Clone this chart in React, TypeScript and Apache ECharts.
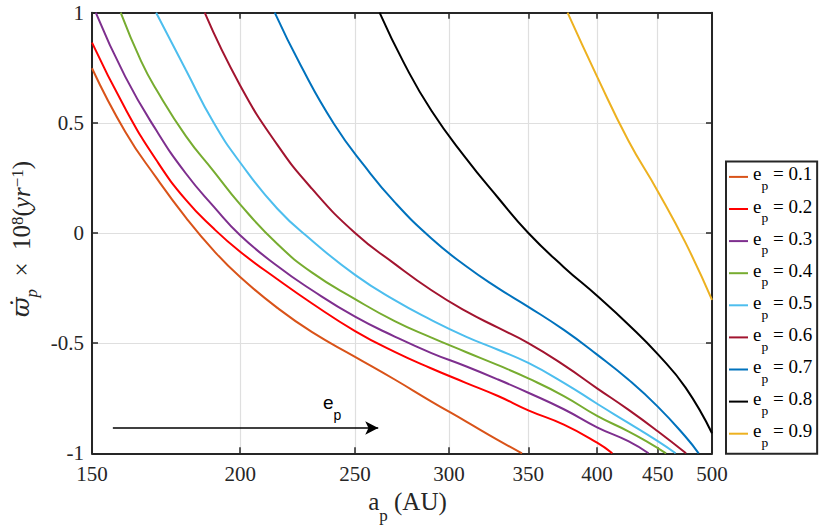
import React, { useEffect, useRef } from "react";
import * as echarts from "echarts";

// ---------- data ----------
const xTickValues = [150, 200, 250, 300, 350, 400, 450, 500];
const yRange = [-1, 1];
const yInterval = 0.5;

const eccentricityLabels = ["0.1", "0.2", "0.3", "0.4", "0.5", "0.6", "0.7", "0.8", "0.9"];
const lineColors = ["#D95319", "#FF0000", "#7E2F8E", "#77AC30", "#4DBEEE", "#A2142F", "#0072BD", "#000000", "#EDB120"];

// [a_p (AU), precession rate]
const curveE01 = [[150, 0.748], [160, 0.46], [170, 0.25], [180, 0.07], [190, -0.08], [200, -0.2], [215, -0.34], [230, -0.45], [250, -0.562], [270, -0.665], [290, -0.765], [310, -0.855], [330, -0.94], [345.7, -1]];
const curveE02 = [[150, 0.864], [160, 0.565], [170, 0.33], [180, 0.15], [190, 0.02], [200, -0.085], [215, -0.21], [230, -0.32], [250, -0.445], [270, -0.54], [290, -0.615], [310, -0.68], [330, -0.74], [350, -0.805], [375, -0.87], [400, -0.952], [412, -1]];
const curveE03 = [[151.1, 1], [160, 0.71], [170, 0.465], [180, 0.27], [190, 0.12], [200, -0.01], [215, -0.15], [230, -0.26], [250, -0.38], [270, -0.47], [290, -0.545], [310, -0.605], [330, -0.665], [350, -0.725], [375, -0.8], [400, -0.882], [425, -0.945], [442, -1]];
const curveE04 = [[158.6, 1], [165, 0.78], [170, 0.65], [180, 0.44], [190, 0.28], [200, 0.13], [215, -0.05], [230, -0.18], [250, -0.3], [270, -0.4], [290, -0.475], [310, -0.54], [330, -0.6], [350, -0.66], [375, -0.74], [400, -0.83], [425, -0.9], [440, -0.945], [457.3, -1]];
const curveE05 = [[169.9, 1], [180, 0.74], [190, 0.5], [200, 0.32], [215, 0.11], [230, -0.035], [250, -0.19], [270, -0.305], [290, -0.395], [310, -0.47], [330, -0.53], [350, -0.59], [375, -0.68], [400, -0.775], [425, -0.862], [450, -0.945], [465.9, -1]];
const curveE06 = [[186.7, 1], [200, 0.67], [215, 0.4], [230, 0.2], [250, 0], [270, -0.14], [290, -0.26], [310, -0.355], [330, -0.43], [350, -0.5], [375, -0.6], [400, -0.705], [425, -0.802], [450, -0.9], [475.4, -1]];
const curveE07 = [[213.9, 1], [225, 0.76], [240, 0.495], [255, 0.3], [270, 0.14], [290, -0.025], [310, -0.15], [330, -0.25], [350, -0.335], [375, -0.44], [400, -0.552], [425, -0.665], [450, -0.788], [475, -0.925], [487.2, -1]];
const curveE08 = [[262.2, 1], [275, 0.77], [290, 0.555], [310, 0.34], [330, 0.16], [350, 0], [375, -0.155], [400, -0.285], [425, -0.415], [450, -0.55], [475, -0.702], [500, -0.909]];
const curveE09 = [[377.7, 1], [400, 0.71], [425, 0.42], [450, 0.19], [475, -0.045], [500, -0.304]];

const curves = [curveE01, curveE02, curveE03, curveE04, curveE05, curveE06, curveE07, curveE08, curveE09];

const arrowFrom = [156.2, -0.885];
const arrowTo = [261.5, -0.885];

// ---------- styles ----------
const SERIF = "Liberation Serif, Times New Roman, DejaVu Serif, serif";
const SANS = "Liberation Sans, Arial, Helvetica, sans-serif";
const AXIS_COLOR = "#262626";
const GRID_COLOR = "#DFDFDF";

export default function App() {
  const ref = useRef<HTMLDivElement>(null);

  useEffect(() => {
    if (!ref.current) return;
    const chart = echarts.init(ref.current, null, { renderer: "svg" });

    const tickStyle = { show: true, inside: true, length: 6, lineStyle: { color: AXIS_COLOR, width: 1.5 } };
    const lineStyleAxis = { show: true, onZero: false, lineStyle: { color: AXIS_COLOR, width: 2 } };

    const lineSeries = curves.map((data, i) => ({
      type: "line",
      name: eccentricityLabels[i],
      data,
      xAxisIndex: 0,
      yAxisIndex: 0,
      symbol: "none",
      smooth: 0.5,
      lineStyle: { width: 2, color: lineColors[i] },
      itemStyle: { color: lineColors[i] },
      emphasis: { disabled: true },
      z: 3 + i,
    }));

    const arrowSeries = {
      type: "line",
      name: "arrow",
      data: [],
      xAxisIndex: 0,
      yAxisIndex: 0,
      symbol: "none",
      markLine: {
        silent: true,
        symbol: ["none", "arrow"],
        symbolSize: [10, 13],
        lineStyle: { color: "#000", width: 1.5, type: "solid" },
        label: { show: false },
        data: [[{ coord: arrowFrom }, { coord: arrowTo }]],
      },
    };

    const option = {
      animation: false,
      backgroundColor: "#fff",
      grid: { left: 92, right: 118, top: 12.7, bottom: 72.7, containLabel: false, outerBoundsMode: "none" },
      xAxis: [
        {
          type: "log",
          logBase: 10,
          min: xTickValues[0],
          max: xTickValues[xTickValues.length - 1],
          position: "bottom",
          axisLine: lineStyleAxis,
          axisTick: { ...tickStyle, customValues: xTickValues },
          axisLabel: { customValues: xTickValues, fontSize: 21, fontFamily: SERIF, color: AXIS_COLOR, margin: 10 },
          splitLine: { show: true, lineStyle: { color: GRID_COLOR, width: 1.2 } },
          minorTick: { show: false },
          minorSplitLine: { show: false },
          name: "{n|a}{sb|p}{n| (AU)}",
          nameLocation: "middle",
          nameGap: 25,
          nameTextStyle: {
            padding: [0, 0, 0, 11],
            rich: {
              n: { fontFamily: SERIF, fontSize: 25, lineHeight: 34, verticalAlign: "top", color: AXIS_COLOR },
              sb: { fontFamily: SERIF, fontSize: 17, lineHeight: 17, verticalAlign: "top", padding: [18, 0, 0, 0], color: AXIS_COLOR },
            },
          },
        },
        {
          type: "log",
          logBase: 10,
          min: xTickValues[0],
          max: xTickValues[xTickValues.length - 1],
          position: "top",
          axisLine: lineStyleAxis,
          axisTick: { ...tickStyle, customValues: xTickValues },
          axisLabel: { show: false },
          splitLine: { show: false },
        },
      ],
      yAxis: [
        {
          type: "value",
          min: yRange[0],
          max: yRange[1],
          interval: yInterval,
          position: "left",
          axisLine: lineStyleAxis,
          axisTick: tickStyle,
          axisLabel: { fontSize: 21, fontFamily: SERIF, color: AXIS_COLOR, margin: 8 },
          splitLine: { show: true, lineStyle: { color: GRID_COLOR, width: 1.2 } },
          name: "{w|ϖ̇}{sb|p}{n|  ×  10}{sp|8}{n|(}{i|yr}{sp|−1}{n|)}",
          nameLocation: "middle",
          nameGap: 37,
          nameRotate: 90,
          nameTextStyle: {
            padding: [0, 12, 0, 0],
            rich: {
              w: { fontFamily: "DejaVu Serif", fontSize: 24, lineHeight: 34, verticalAlign: "top", fontStyle: "italic", color: AXIS_COLOR },
              n: { fontFamily: SERIF, fontSize: 25, lineHeight: 34, verticalAlign: "top", color: AXIS_COLOR },
              i: { fontFamily: SERIF, fontSize: 25, lineHeight: 34, verticalAlign: "top", fontStyle: "italic", color: AXIS_COLOR },
              sb: { fontFamily: SERIF, fontSize: 17, lineHeight: 17, verticalAlign: "top", fontStyle: "italic", padding: [13.7, 0, 0, 0], color: AXIS_COLOR },
              sp: { fontFamily: SERIF, fontSize: 17, lineHeight: 17, verticalAlign: "top", color: AXIS_COLOR },
            },
          },
        },
        {
          type: "value",
          min: yRange[0],
          max: yRange[1],
          interval: yInterval,
          position: "right",
          axisLine: lineStyleAxis,
          axisTick: tickStyle,
          axisLabel: { show: false },
          splitLine: { show: false },
        },
      ],
      legend: {
        data: eccentricityLabels,
        orient: "vertical",
        left: 726,
        top: 161.5,
        padding: [2.9, 5, 4.35, 3],
        itemGap: 3.8,
        itemWidth: 19,
        itemHeight: 2,
        icon: "rect",
        borderColor: AXIS_COLOR,
        borderWidth: 2,
        backgroundColor: "#fff",
        selectedMode: false,
        formatter: (name: string) => `{n|e}{sb|p}{n| = ${name}}`,
        textStyle: {
          color: "#000",
          fontFamily: SERIF,
          fontSize: 19,
          rich: {
            n: { fontFamily: SERIF, fontSize: 19, lineHeight: 25, verticalAlign: "top", color: "#000" },
            sb: { fontFamily: SERIF, fontSize: 13.5, lineHeight: 13.5, verticalAlign: "top", padding: [14.3, 0, 0, 0], color: "#000" },
          },
        },
      },
      graphic: [
        {
          type: "text",
          left: 323,
          top: 393,
          silent: true,
          style: {
            text: "{e|e}{p|p}",
            rich: {
              e: { fontFamily: SANS, fontSize: 19, lineHeight: 22, verticalAlign: "top", fill: "#000" },
              p: { fontFamily: SANS, fontSize: 14, lineHeight: 14, verticalAlign: "top", padding: [15, 0, 0, 0], fill: "#000" },
            },
          },
        },
      ],
      series: [...lineSeries, arrowSeries],
    };

    chart.setOption(option as any);
    return () => chart.dispose();
  }, []);

  return (
    <div
      ref={ref}
      style={{ position: "fixed", left: 0, top: 0, width: 830, height: 526, background: "#fff" }}
    />
  );
}
